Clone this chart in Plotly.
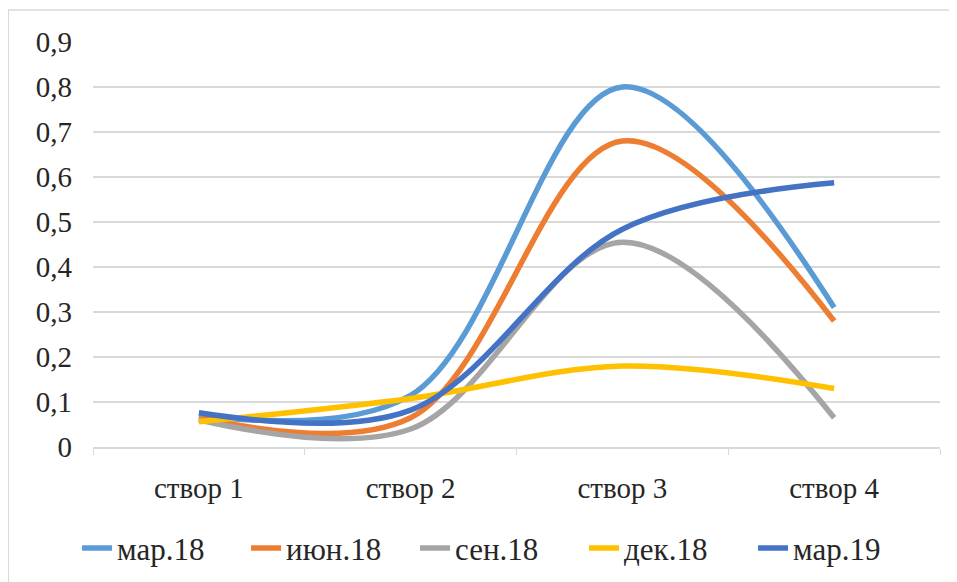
import plotly.graph_objects as go

categories = ["створ 1", "створ 2", "створ 3", "створ 4"]
series_names = ["мар.18", "июн.18", "сен.18", "дек.18", "мар.19"]
mar18 = [0.07, 0.115, 0.80, 0.31]
jun18 = [0.065, 0.065, 0.68, 0.28]
sep18 = [0.06, 0.04, 0.455, 0.065]
dec18 = [0.056, 0.108, 0.18, 0.13]
mar19 = [0.076, 0.082, 0.484, 0.587]
colors = ["#5B9BD5", "#ED7D31", "#A5A5A5", "#FFC000", "#4472C4"]
y_ticks = [0, 0.1, 0.2, 0.3, 0.4, 0.5, 0.6, 0.7, 0.8, 0.9]

values = [mar18, jun18, sep18, dec18, mar19]
FONT = "Liberation Serif, Times New Roman, DejaVu Serif, serif"

fig = go.Figure()
for name, vals, col in zip(series_names, values, colors):
    fig.add_trace(go.Scatter(
        x=categories, y=vals, name=name, mode="lines",
        line=dict(color=col, width=5.5, shape="spline", smoothing=1.0),
    ))

fig.update_layout(
    width=957, height=582,
    margin=dict(l=85, r=25, t=34, b=143, autoexpand=False),
    paper_bgcolor="white", plot_bgcolor="white",
    separators=", ",
    font=dict(family=FONT, size=29, color="#262626"),
    showlegend=True,
    legend=dict(
        orientation="h", x=0.48, xanchor="center",
        y=-0.25, yanchor="middle",
        font=dict(family=FONT, size=31, color="#262626"),
        entrywidth=124, itemwidth=30, tracegroupgap=0,
        bgcolor="rgba(0,0,0,0)",
    ),
    shapes=[dict(
        type="rect", xref="paper", yref="paper",
        x0=-0.1, x1=1.2, y0=-1.0, y1=1.079,
        line=dict(color="#D9D9D9", width=1.5), fillcolor="rgba(0,0,0,0)",
        layer="below",
    )],
)
fig.update_xaxes(
    type="category", range=[-0.5, 3.5], showgrid=False, showline=True,
    linecolor="#D9D9D9", linewidth=1.5,
    ticks="outside", tickson="boundaries", ticklen=6, tickcolor="#D9D9D9",
    ticklabelstandoff=14, tickangle=0, tickfont=dict(family=FONT, size=29, color="#262626"),
    zeroline=False,
)
fig.update_yaxes(
    range=[0, 0.9], tickvals=y_ticks, showgrid=True, gridcolor="#D9D9D9", gridwidth=1.5,
    showline=False, zeroline=False, ticks="", ticklabelstandoff=20,
    tickfont=dict(family=FONT, size=29, color="#262626"),
)
fig.write_html("out.html")
